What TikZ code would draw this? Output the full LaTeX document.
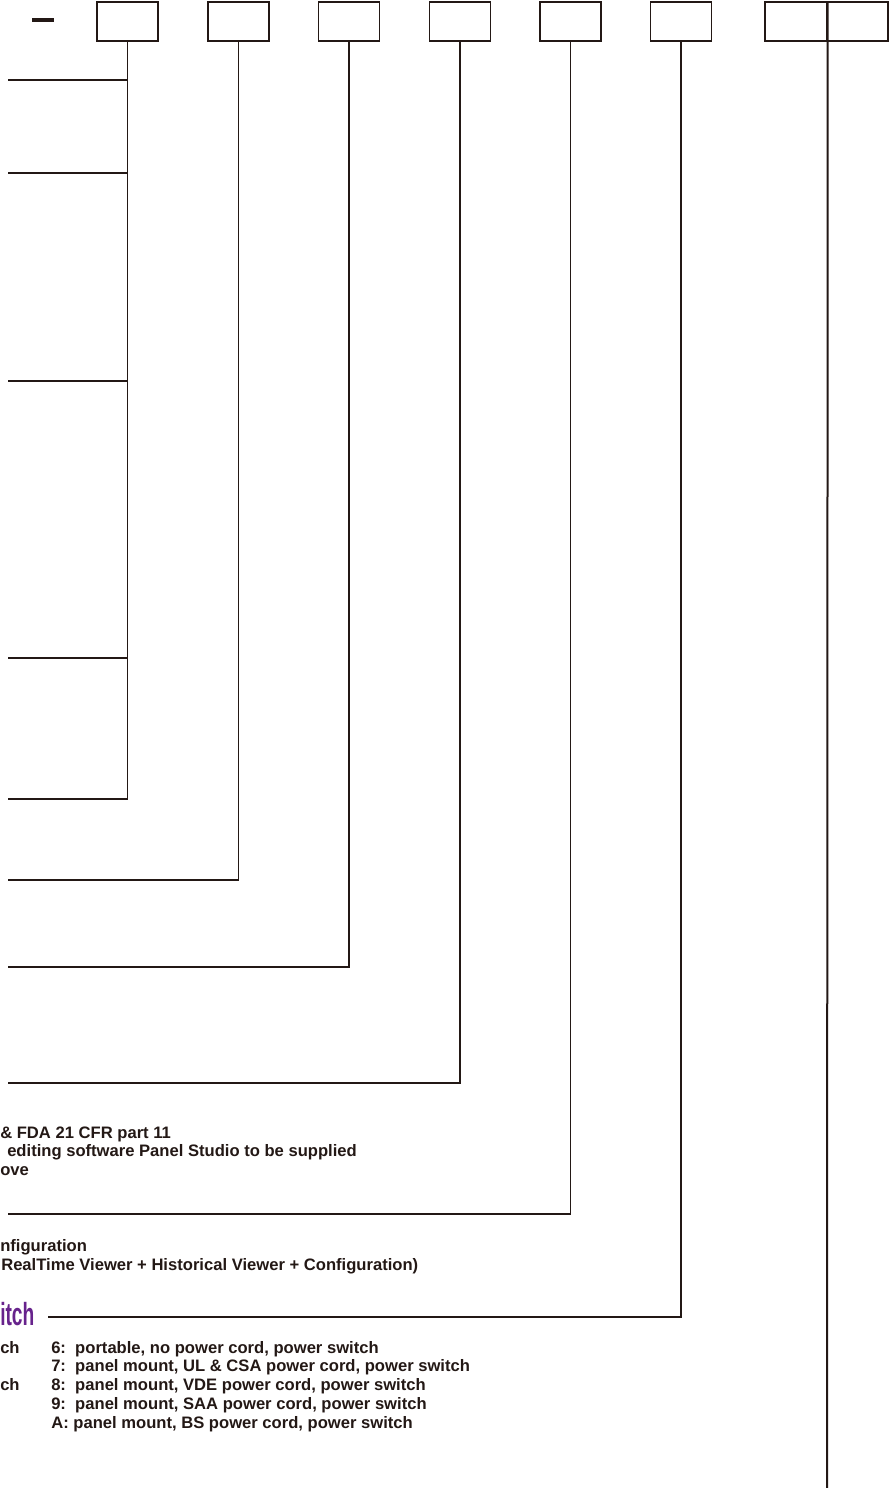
\documentclass[tikz,border=0pt]{standalone}
\usepackage{fontspec}
\setmainfont{Liberation Sans}
\usepackage{graphicx}
\usetikzlibrary{calc}
\definecolor{ink}{RGB}{35,24,21}
\definecolor{titlecol}{RGB}{103,35,140}

\begin{document}
\begin{tikzpicture}[x=0.75pt, y=-0.75pt,
    codebox/.style={draw=ink, line width=1.1pt, minimum width=45.75pt, minimum height=29.25pt, inner sep=0pt},
    lead/.style={draw=ink, line width=0.95pt},
    txt/.style={anchor=base west, inner sep=0pt, text=ink, font=\bfseries\fontsize{12.45}{14}\selectfont},
]
\useasboundingbox (0,0) rectangle (890,1488);

% code boxes
\node[fill=ink, minimum width=16.5pt, minimum height=2.5pt, inner sep=0pt] (dash) at (43,20) {};
\node[codebox] (c1) at (127.5,21.5) {};
\node[codebox] (c2) at (238.5,21.5) {};
\node[codebox] (c3) at (349,21.5) {};
\node[codebox] (c4) at (460,21.5) {};
\node[codebox] (c5) at (570.5,21.5) {};
\node[codebox] (c6) at (681,21.5) {};
\node[codebox, minimum width=46.5pt] (c7a) at (796,21.5) {};
\node[codebox] (c7b) at (857.5,21.5) {};

% free ends of the leaders
\foreach \y [count=\i] in {80,173,381,658} \coordinate (t1-\i) at (8,\y);
\coordinate (t1) at (8,799);
\coordinate (t2) at (8,880);
\coordinate (t3) at (8,967);
\coordinate (t4) at (8,1083);
\coordinate (t5) at (8,1214);
\coordinate (t6) at (48,1317);
\coordinate (t7) at (827,1488);

\draw[lead] (c1.south) |- (t1);
\foreach \i in {1,...,4} \draw[lead] (t1-\i) -- (t1-\i -| c1.south);
\draw[lead] (c2.south) |- (t2);
\draw[lead] (c3.south) |- (t3);
\draw[lead] (c4.south) |- (t4);
\draw[lead] (c5.south) |- (t5);
\draw[lead] (c6.south) |- (t6);
\draw[draw=ink, line width=1.5pt] (c7a.north east) -- (t7);

% texts
\node[txt] (cfr) at (0,1138) {\& FDA 21 CFR part 11};
\node[txt] (edit) at (7,1156.7) {editing software Panel Studio to be supplied};
\node[txt] (ove) at (0,1175.4) {ove};
\node[txt] (conf) at (0,1251.5) {nfiguration};
\node[txt] (view) at (1,1270.2) {RealTime Viewer + Historical Viewer + Configuration)};
\node[txt, text=titlecol, font=\bfseries\fontsize{24}{24}\selectfont] (ttl) at (0,1325.5) {\scalebox{0.6}[1]{itch}};
\node[txt] (sw1) at (0,1353) {ch};
\node[txt] (sw2) at (0,1390.5) {ch};
\node[txt] (o6) at (51,1353) {6:\ \ portable, no power cord, power switch};
\node[txt] (o7) at (51,1371.75) {7:\ \ panel mount, UL \& CSA power cord, power switch};
\node[txt] (o8) at (51,1390.5) {8:\ \ panel mount, VDE power cord, power switch};
\node[txt] (o9) at (51,1409.25) {9:\ \ panel mount, SAA power cord, power switch};
\node[txt] (oA) at (51,1428) {A: panel mount, BS power cord, power switch};
\end{tikzpicture}
\end{document}
